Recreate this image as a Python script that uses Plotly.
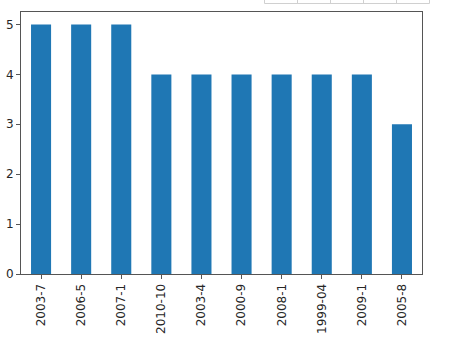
import plotly.graph_objects as go

categories = ["2003-7", "2006-5", "2007-1", "2010-10", "2003-4", "2000-9", "2008-1", "1999-04", "2009-1", "2005-8"]
counts = [5, 5, 5, 4, 4, 4, 4, 4, 4, 3]
y_ticks = [0, 1, 2, 3, 4, 5]

W, H = 452, 347
L, R, T, B = 21, 422, 12, 274

fig = go.Figure(go.Bar(x=categories, y=counts, width=0.5, marker=dict(color="#1f77b4", line=dict(width=0))))

fig.update_layout(
    width=W, height=H,
    margin=dict(l=L, r=W - R, t=T, b=H - B, pad=0),
    paper_bgcolor="white", plot_bgcolor="white",
    showlegend=False,
    font=dict(family="DejaVu Sans", size=12, color="#262626"),
)
fig.update_xaxes(
    type="category", range=[-0.5, 9.5], tickangle=-90, automargin=False,
    showline=True, linecolor="#555555", linewidth=1, mirror=True,
    ticks="outside", ticklen=4, tickcolor="#555555", showgrid=False,
    tickfont=dict(size=12, color="#262626"),
)
fig.update_yaxes(
    range=[0, 5.25], tickvals=y_ticks, ticktext=[str(v) for v in y_ticks], automargin=False,
    showline=True, linecolor="#555555", linewidth=1, mirror=True,
    ticks="outside", ticklen=4, tickcolor="#555555", showgrid=False, zeroline=False,
    tickfont=dict(size=12, color="#262626"),
)

# fragment of a table visible at top of the page
xs = [264.5, 297.5, 330.5, 363.5, 396.5, 429.5]
shapes = []
for x in xs:
    shapes.append(dict(type="line", xref="paper", yref="paper",
                       x0=(x - L) / (R - L), x1=(x - L) / (R - L),
                       y0=(B - (-2)) / (B - T), y1=(B - 3.5) / (B - T),
                       line=dict(color="#d0d0d0", width=1)))
shapes.append(dict(type="line", xref="paper", yref="paper",
                   x0=(xs[0] - L) / (R - L), x1=(xs[-1] - L) / (R - L),
                   y0=(B - 3.5) / (B - T), y1=(B - 3.5) / (B - T),
                   line=dict(color="#d0d0d0", width=1)))
fig.update_layout(shapes=shapes)

fig.write_html("out.html")
